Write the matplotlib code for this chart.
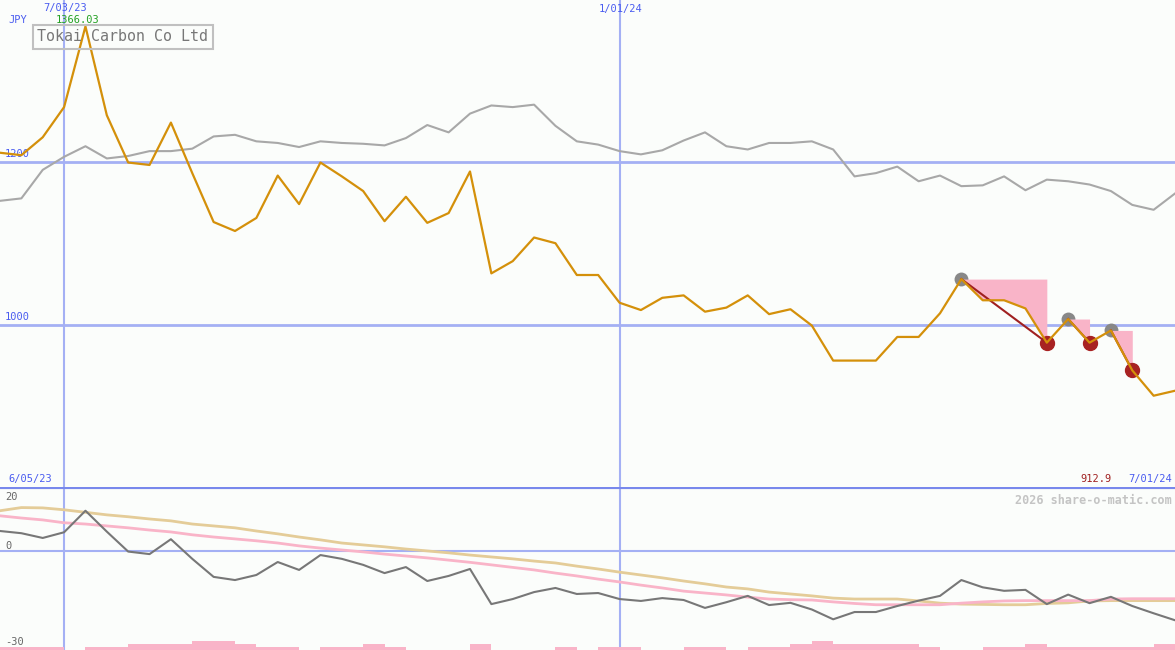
import numpy as np
import pandas as pd
import matplotlib
matplotlib.use('Agg')
import matplotlib.pyplot as plt

# weekly closes, Tokai Carbon (JPY)
dates = pd.date_range('2023-06-12', periods=56, freq='7D')
price = [1211, 1208, 1230, 1267, 1366.03, 1257, 1199, 1196, 1248, 1186,
         1126, 1115, 1131, 1183, 1148, 1199, 1182, 1164, 1127, 1157,
         1125, 1137, 1188, 1063, 1078, 1107, 1100, 1061, 1061, 1027,
         1018, 1033, 1036, 1016, 1021, 1036, 1013, 1019, 999, 956,
         956, 956, 985, 985, 1014, 1056, 1030, 1030, 1020, 978,
         1007, 978, 993, 944, 912.9, 919]
# comparison index, rescaled to price
index_rel = [1152, 1155, 1190, 1206, 1219, 1204, 1207, 1213, 1213, 1216,
             1231, 1233, 1225, 1223, 1218, 1225, 1223, 1222, 1220, 1229,
             1245, 1236, 1259, 1269, 1267, 1270, 1244, 1225, 1221, 1213,
             1209, 1214, 1226, 1236, 1219, 1215, 1223, 1223, 1225, 1215,
             1182, 1186, 1194, 1176, 1183, 1170, 1171, 1182, 1165, 1178,
             1176, 1172, 1164, 1147, 1141, 1161]

# lower panel indicators
rel_strength = [6.4, 5.7, 4.2, 6.0, 12.8, 6.2, -0.1, -0.9, 3.8, -2.4,
                -8.1, -9.1, -7.5, -3.4, -5.9, -1.2, -2.4, -4.3, -6.9, -5.0,
                -9.4, -7.8, -5.6, -16.7, -15.1, -12.9, -11.6, -13.5, -13.2, -15.1,
                -15.7, -14.8, -15.4, -17.9, -16.1, -14.1, -17.0, -16.3, -18.4, -21.5,
                -19.2, -19.2, -17.3, -15.6, -14.1, -9.1, -11.4, -12.5, -12.2, -16.7,
                -13.7, -16.4, -14.4, -17.3, -19.6, -21.8]
avg_fast = [11.2, 10.5, 9.9, 9.0, 8.6, 8.0, 7.4, 6.7, 6.1, 5.2,
            4.5, 3.9, 3.3, 2.6, 1.7, 1.0, 0.4, -0.2, -0.9, -1.5,
            -2.1, -2.8, -3.5, -4.3, -5.1, -5.9, -6.9, -7.8, -8.8, -9.7,
            -10.7, -11.6, -12.6, -13.2, -13.8, -14.5, -15.1, -15.3, -15.4, -16.0,
            -16.5, -16.9, -16.9, -16.9, -16.9, -16.4, -16.0, -15.7, -15.6, -15.6,
            -15.6, -15.6, -15.1, -15.0, -15.0, -15.0]
avg_slow = [12.8, 13.8, 13.7, 13.1, 12.3, 11.5, 10.9, 10.2, 9.6, 8.6,
            8.0, 7.4, 6.4, 5.5, 4.5, 3.6, 2.6, 2.0, 1.4, 0.7,
            0.1, -0.5, -1.2, -1.8, -2.4, -3.1, -3.7, -4.7, -5.6, -6.6,
            -7.5, -8.4, -9.4, -10.3, -11.3, -11.9, -12.9, -13.5, -14.1, -14.8,
            -15.1, -15.1, -15.1, -15.7, -16.4, -16.7, -16.8, -16.9, -16.9, -16.5,
            -16.3, -15.7, -15.6, -15.6, -15.6, -15.6]
volume = [1, 1, 1, 0, 1, 1, 2, 2, 2, 3, 3, 2, 1, 1, 0, 1, 1, 2, 1,
          0, 0, 0, 2, 0, 0, 0, 1, 0, 1, 1, 0, 0, 1, 1, 0, 1, 1, 2,
          3, 2, 2, 2, 2, 1, 0, 0, 1, 1, 2, 1, 1, 1, 1, 1, 2]

# drawdown markers (peak index, trough index)
peaks = [45, 50, 52]
troughs = [49, 51, 53]

bg = '#fbfdfb'
grid_c = '#a4b0f4'
blue_txt = '#4a5cf0'
mono = 'DejaVu Sans Mono'

fig = plt.figure(figsize=(11.75, 6.5), dpi=100, facecolor=bg)
ax = fig.add_axes([0, 163 / 650, 1, 487 / 650])
ax2 = fig.add_axes([0, 0, 1, 163 / 650])
for a in (ax, ax2):
    a.set_facecolor(bg)
    for s in a.spines.values():
        s.set_visible(False)
    a.set_xticks([])
    a.set_yticks([])
    a.set_xlim(dates[0], dates[-1])
    for d in ['2023-07-03', '2024-01-01']:
        a.axvline(pd.Timestamp(d), color=grid_c, lw=1.5, zorder=1)

ax.set_ylim(800.9, 1398.4)
for lvl in [1000, 1200]:
    ax.axhline(lvl, color=grid_c, lw=2, zorder=1)
    ax.text(0.004, lvl + 3, str(lvl), transform=ax.get_yaxis_transform(),
            color=blue_txt, fontsize=7.5, family=mono, va='bottom')

ax.plot(dates, index_rel, color='#a8a8a8', lw=1.5, zorder=2)

# drawdown shading
for p, t in zip(peaks, troughs):
    xs = dates[p:t + 1]
    ax.plot(dates[p], price[p], 'o', ms=10, color='#888888', mec='none', zorder=2.5)
    ax.fill_between(xs, price[p], price[p:t + 1], color='#f9b4c8', lw=0, zorder=3)
    ax.plot(dates[t], price[t], 'o', ms=10, color='#a82222', zorder=3.5)
    ax.plot([dates[p], dates[t]], [price[p], price[t]], color='#a02020', lw=1.5, zorder=3.6)

ax.plot(dates, price, color='#d4900a', lw=1.6, zorder=4)

ax.text(8 / 1175, 1 - 20 / 487, 'JPY', transform=ax.transAxes, color=blue_txt,
        fontsize=7.5, family=mono, va='center')
ax.text(65 / 1175, 1 - 8 / 487, '7/03/23', transform=ax.transAxes, color=blue_txt,
        fontsize=7.5, family=mono, va='center', ha='center')
ax.text(621 / 1175, 1 - 9 / 487, '1/01/24', transform=ax.transAxes, color=blue_txt,
        fontsize=7.5, family=mono, va='center', ha='center')
ax.text(78 / 1175, 1 - 20 / 487, '1366.03', transform=ax.transAxes, color='#22a022',
        fontsize=7.5, family=mono, va='center', ha='center')
ax.text(37 / 1175, 1 - 36.5 / 487, 'Tokai Carbon Co Ltd', transform=ax.transAxes,
        color='#777777', fontsize=10.8, family=mono, va='center', zorder=6,
        bbox=dict(boxstyle='square,pad=0.3', fc='none', ec='#c0c0c0', lw=1.5))
ax.text(8 / 1175, 8 / 487, '6/05/23', transform=ax.transAxes, color=blue_txt,
        fontsize=7.5, family=mono, va='center')
ax.text(1112 / 1175, 8 / 487, '912.9', transform=ax.transAxes, color='#a02020',
        fontsize=7.5, family=mono, va='center', ha='right')
ax.text(1172 / 1175, 8 / 487, '7/01/24', transform=ax.transAxes, color=blue_txt,
        fontsize=7.5, family=mono, va='center', ha='right')

# lower panel
ax2.set_ylim(-31.2, 20.3)
ax2.axhline(0, color=grid_c, lw=1.5, zorder=1)
ax2.axhline(20.3, color='#7888ec', lw=3, zorder=5)
ax2.plot(dates, avg_slow, color='#e4cc98', lw=2, zorder=2)
ax2.plot(dates, avg_fast, color='#f9b4c8', lw=2, zorder=2)
ax2.plot(dates, rel_strength, color='#777777', lw=1.5, zorder=3)
for val, y in [('20', 17.2), ('0', 1.6), ('-30', -28.6)]:
    ax2.text(5 / 1175, y, val, transform=ax2.get_yaxis_transform(), color='#666666',
             fontsize=7.5, family=mono, va='center')
ax2.text(1172 / 1175, 1 - 13 / 163, '2026 share-o-matic.com', transform=ax2.transAxes,
         color='#c4c4c4', fontsize=8.5, family=mono, weight='bold', va='center', ha='right')

ax3 = ax2.twinx()
ax3.set_ylim(0, 163 / 3)
ax3.set_axis_off()
ax3.bar(dates[:-1], volume, width=7, align='edge', color='#f9b4c8', lw=0)

fig.savefig('out.png', dpi=100, facecolor=bg)
